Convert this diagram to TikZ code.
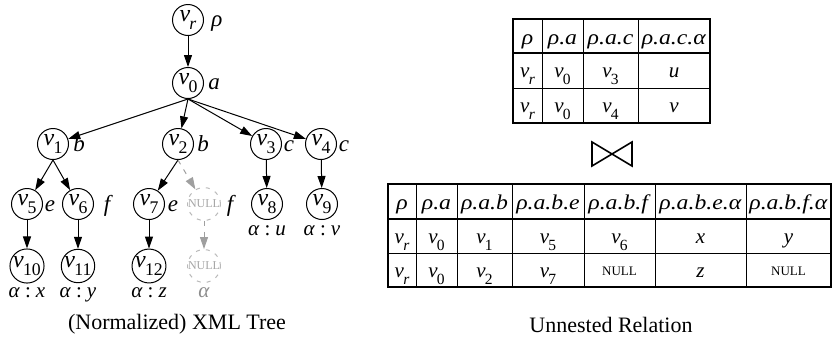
\documentclass[tikz,border=0pt]{standalone}
\usepackage{fontspec}
\setmainfont{Liberation Serif}
\usetikzlibrary{arrows.meta}
% italic variable with a lowered subscript
\newcommand\vs[1]{\textit{v}\kern-0.03em\raisebox{-0.36em}{\scalebox{0.74}{#1}}}
% attribute value label
\newcommand\attr[1]{\textit{α}\hspace{0.24em}:\hspace{0.24em}\textit{#1}}
% slightly widened text for table cells
\newcommand\wide[1]{\scalebox{1.13}[1]{#1}}
\begin{document}
\begin{tikzpicture}[x=1pt,y=-1pt,
  vert/.style={circle,draw,line width=1pt,minimum size=31pt,inner sep=0pt,
    font=\fontsize{24}{26}\selectfont},
  nullv/.style={circle,draw=gray!55,dash pattern=on 4pt off 6pt,line width=1pt,
    text=gray!70,minimum size=31pt,inner sep=0pt,font=\fontsize{12}{14}\selectfont},
  tag/.style={anchor=base,inner sep=0pt,font=\fontsize{23}{26}\selectfont\itshape},
  attrlabel/.style={anchor=base,inner sep=0pt,font=\fontsize{21}{24}\selectfont},
  edge/.style={-{Triangle[length=12pt,width=8pt]},line width=1pt},
  nulledge/.style={edge,gray!75,dash pattern=on 5pt off 6pt},
  cell/.style={anchor=base,inner sep=0pt,font=\fontsize{21}{24}\selectfont},
  nullcell/.style={anchor=base,inner sep=0pt,font=\fontsize{13}{15}\selectfont},
  thick line/.style={line width=1.8pt},
  thin line/.style={line width=1pt},
  caption/.style={inner sep=0pt,font=\fontsize{22}{26}\selectfont}]
\useasboundingbox (0,0) rectangle (833,341);

% ---------------- tree ----------------
\node[vert] (vr) at (188,20) {\vs{\textit{r}}};
\node[vert] (v0) at (188,83) {\vs{0}};
\node[vert] (v1) at (53,144) {\vs{1}};
\node[vert] (v2) at (178,144) {\vs{2}};
\node[vert] (v3) at (266,144) {\vs{3}};
\node[vert] (v4) at (321,144) {\vs{4}};
\node[vert] (v5) at (27,204) {\vs{5}};
\node[vert] (v6) at (78,204) {\vs{6}};
\node[vert] (v7) at (149,204) {\vs{7}};
\node[nullv] (n1) at (204,204) {NULL};
\node[vert] (v8) at (267,204) {\vs{8}};
\node[vert] (v9) at (322,204) {\vs{9}};
\node[vert] (v10) at (27,266) {\vs{10}};
\node[vert] (v11) at (78,266) {\vs{11}};
\node[vert] (v12) at (149,266) {\vs{12}};
\node[nullv] (n2) at (204,266) {NULL};

% element tags
\node[tag] (lr) at (217,26) {ρ};
\node[tag] (l0) at (214,89) {a};
\node[tag] (l1) at (79,151) {b};
\node[tag] (l2) at (203,151) {b};
\node[tag] (l3) at (289,151) {c};
\node[tag] (l4) at (344,151) {c};
\node[tag] (l5) at (50,211) {e};
\node[tag] (l6) at (107,211) {f};
\node[tag] (l7) at (173,211) {e};
\node[tag] (ln1) at (230,211) {f};
\node[attrlabel] (a8) at (267,235) {\attr{u}};
\node[attrlabel] (a9) at (322,235) {\attr{v}};
\node[attrlabel] (a10) at (27,297) {\attr{x}};
\node[attrlabel] (a11) at (78,297) {\attr{y}};
\node[attrlabel] (a12) at (149,297) {\attr{z}};
\node[attrlabel,text=gray!90] (an2) at (204,297) {\textit{α}};

% edges
\draw[edge] (vr) -- (v0);
\foreach \c in {v1,v2,v3,v4} \draw[edge] (v0.south) -- (\c);
\draw[edge] (v1.south) -- (v5);
\draw[edge] (v1.south) -- (v6);
\draw[edge] (v2.south) -- (v7);
\draw[nulledge] (v2.south) -- (n1);
\draw[edge] (v3) -- (v8);
\draw[edge] (v4) -- (v9);
\draw[edge] (v5) -- (v10);
\draw[edge] (v6) -- (v11);
\draw[edge] (v7) -- (v12);
\draw[nulledge] (n1) -- (n2);

\node[caption] (cap1) at (177,324) {(Normalized) XML Tree};

% ---------------- upper relation ----------------
\foreach \x in {542,583,638} \draw[thin line] (\x,19) -- (\x,123);
\draw[thin line] (513,88) -- (710,88);
\draw[thick line] (513,53) -- (710,53);
\draw[thick line] (513,19) rectangle (710,123);
\node[cell] (u11) at (527.5,44) {\wide{\textit{ρ}}};
\node[cell] (u12) at (562.5,44) {\wide{\textit{ρ.a}}};
\node[cell] (u13) at (610.5,44) {\wide{\textit{ρ.a.c}}};
\node[cell] (u14) at (674,44) {\wide{\textit{ρ.a.c.α}}};
\node[cell] (u21) at (527.5,77) {\vs{\textit{r}}};
\node[cell] (u22) at (562.5,77) {\vs{0}};
\node[cell] (u23) at (610.5,77) {\vs{3}};
\node[cell] (u24) at (674,77) {\textit{u}};
\node[cell] (u31) at (527.5,112) {\vs{\textit{r}}};
\node[cell] (u32) at (562.5,112) {\vs{0}};
\node[cell] (u33) at (610.5,112) {\vs{4}};
\node[cell] (u34) at (674,112) {\textit{v}};

% natural join symbol
\draw[line width=1.6pt,line join=miter] (592,142) -- (632,166) -- (632,142) -- (592,166) -- cycle;

% ---------------- lower relation ----------------
\foreach \x in {416,457,512,584,655,746} \draw[thin line] (\x,184) -- (\x,287);
\draw[thin line] (388,253) -- (831,253);
\draw[thick line] (388,219) -- (831,219);
\draw[thick line] (388,184) rectangle (831,287);
\node[cell] (w11) at (402,209) {\wide{\textit{ρ}}};
\node[cell] (w12) at (436.5,209) {\wide{\textit{ρ.a}}};
\node[cell] (w13) at (484.5,209) {\wide{\textit{ρ.a.b}}};
\node[cell] (w14) at (548,209) {\wide{\textit{ρ.a.b.e}}};
\node[cell] (w15) at (619.5,209) {\wide{\textit{ρ.a.b.f}}};
\node[cell] (w16) at (700.5,209) {\wide{\textit{ρ.a.b.e.α}}};
\node[cell] (w17) at (788.5,209) {\wide{\textit{ρ.a.b.f.α}}};
\node[cell] (w21) at (402,243) {\vs{\textit{r}}};
\node[cell] (w22) at (436.5,243) {\vs{0}};
\node[cell] (w23) at (484.5,243) {\vs{1}};
\node[cell] (w24) at (548,243) {\vs{5}};
\node[cell] (w25) at (619.5,243) {\vs{6}};
\node[cell] (w26) at (700.5,243) {\textit{x}};
\node[cell] (w27) at (788.5,243) {\textit{y}};
\node[cell] (w31) at (402,277) {\vs{\textit{r}}};
\node[cell] (w32) at (436.5,277) {\vs{0}};
\node[cell] (w33) at (484.5,277) {\vs{2}};
\node[cell] (w34) at (548,277) {\vs{7}};
\node[nullcell] (w35) at (619.5,275) {NULL};
\node[cell] (w36) at (700.5,277) {\textit{z}};
\node[nullcell] (w37) at (788.5,275) {NULL};

\node[caption] (cap2) at (611,325) {Unnested Relation};
\end{tikzpicture}
\end{document}
